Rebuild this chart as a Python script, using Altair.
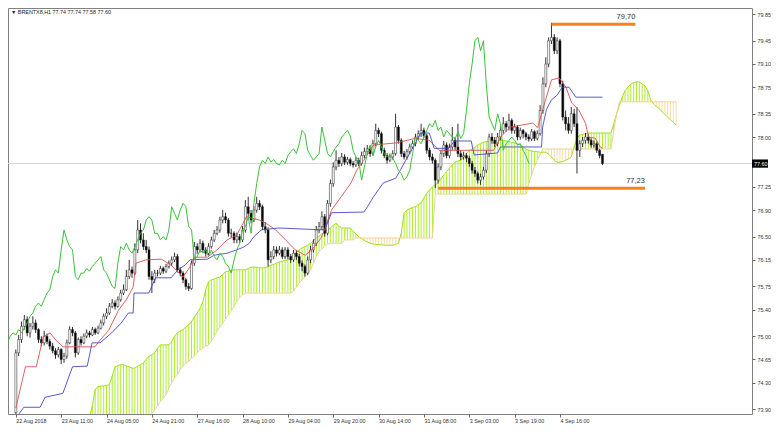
import altair as alt
import pandas as pd

# ---------------- data ----------------
opens = [
    73.85, 74.75, 74.95, 75.15, 75.25, 75.05, 75.15, 75.20, 75.10, 74.95,
    74.90, 75.00, 74.92, 74.85, 74.78, 74.72, 74.80, 74.65, 74.70, 74.90,
    75.10, 75.05, 74.75, 74.95, 74.90, 75.00, 75.05, 75.02, 75.10, 75.05,
    75.12, 75.20, 75.30, 75.35, 75.45, 75.50, 75.45, 75.55, 75.65, 75.70,
    75.90, 76.00, 75.95, 76.30, 76.60, 76.45, 76.35, 76.30, 75.90, 75.85,
    75.95, 75.95, 76.02, 75.98, 76.05, 76.10, 76.15, 76.20, 76.00, 75.95,
    75.85, 75.75, 75.72, 76.10, 76.35, 76.30, 76.40, 76.30, 76.25, 76.35,
    76.45, 76.55, 76.60, 76.75, 76.80, 76.75, 76.55, 76.55, 76.45, 76.50,
    76.45, 76.60, 76.95, 76.85, 76.75, 76.90, 77.00, 76.95, 76.65, 76.60,
    76.15, 76.20, 76.30, 76.25, 76.30, 76.20, 76.30, 76.20, 76.15, 76.25,
    76.20, 76.10, 76.05, 75.95, 76.15, 76.30, 76.40, 76.60, 76.65, 76.80,
    76.55, 77.00, 77.30, 77.55, 77.65, 77.60, 77.70, 77.62, 77.66, 77.60,
    77.58, 77.65, 77.60, 77.72, 77.78, 77.82, 77.75, 77.90, 78.10, 78.05,
    77.80, 77.72, 77.65, 77.70, 77.75, 78.15, 77.95, 77.75, 77.70, 77.78,
    77.85, 77.90, 78.00, 78.05, 78.10, 78.02, 77.80, 77.70, 77.65, 77.35,
    77.55, 77.75, 77.88, 77.72, 77.85, 77.95, 77.85, 77.75, 77.70, 77.72,
    77.68, 77.60, 77.50, 77.45, 77.35, 77.40, 77.50, 77.75, 78.00, 77.95,
    77.90, 78.00, 78.10, 78.20, 78.15, 78.25, 78.10, 78.15, 78.00, 78.10,
    78.05, 78.00, 77.97, 78.08, 77.98, 78.05, 78.40, 78.80, 79.10, 79.45,
    79.50, 79.30, 79.45, 78.80, 78.30, 78.20, 78.10, 78.35, 78.20, 77.80,
    77.90, 77.95, 78.00, 77.95, 77.88, 77.90, 77.80, 77.74,
]
highs = [
    74.80, 75.02, 75.22, 75.32, 75.30, 75.20, 75.30, 75.25, 75.12, 75.00,
    75.08, 75.04, 74.96, 74.90, 74.82, 74.84, 74.82, 74.75, 74.95, 75.15,
    75.14, 75.08, 74.98, 75.00, 75.04, 75.10, 75.08, 75.14, 75.13, 75.16,
    75.25, 75.34, 75.42, 75.50, 75.56, 75.54, 75.60, 75.70, 75.78, 76.00,
    76.15, 76.05, 76.40, 76.75, 76.70, 76.55, 76.45, 76.35, 75.98, 76.00,
    76.00, 76.06, 76.05, 76.09, 76.14, 76.20, 76.26, 76.24, 76.04, 75.98,
    75.88, 75.80, 76.14, 76.42, 76.40, 76.46, 76.44, 76.34, 76.40, 76.50,
    76.60, 76.66, 76.80, 76.90, 76.86, 76.78, 76.62, 76.58, 76.56, 76.54,
    76.66, 77.05, 77.10, 76.90, 76.96, 77.10, 77.05, 76.98, 76.72, 76.64,
    76.28, 76.36, 76.35, 76.36, 76.34, 76.34, 76.34, 76.24, 76.30, 76.30,
    76.24, 76.14, 76.08, 76.20, 76.36, 76.46, 76.66, 76.72, 76.88, 76.84,
    77.05, 77.36, 77.62, 77.80, 77.70, 77.76, 77.74, 77.70, 77.69, 77.64,
    77.70, 77.69, 77.78, 77.84, 77.88, 77.86, 77.96, 78.20, 78.14, 78.08,
    77.84, 77.76, 77.75, 77.80, 78.35, 78.18, 77.98, 77.79, 77.82, 77.90,
    77.95, 78.05, 78.10, 78.20, 78.14, 78.05, 77.84, 77.75, 77.68, 77.60,
    77.80, 77.94, 77.92, 77.90, 78.15, 78.00, 78.20, 77.80, 77.78, 77.76,
    77.72, 77.64, 77.55, 77.48, 77.45, 77.55, 77.80, 78.05, 78.06, 78.00,
    78.06, 78.16, 78.30, 78.24, 78.35, 78.28, 78.20, 78.18, 78.14, 78.12,
    78.08, 78.04, 78.12, 78.10, 78.10, 78.48, 78.90, 79.20, 79.50, 79.72,
    79.55, 79.50, 79.48, 78.85, 78.40, 78.30, 78.45, 78.42, 78.45, 77.95,
    78.00, 78.06, 78.04, 77.98, 77.95, 77.93, 77.82, 77.74,
]
lows = [
    73.80, 74.70, 74.90, 75.10, 75.00, 74.98, 75.10, 75.05, 74.90, 74.85,
    74.86, 74.88, 74.80, 74.74, 74.66, 74.68, 74.58, 74.60, 74.66, 74.88,
    75.00, 74.68, 74.72, 74.86, 74.88, 74.97, 74.98, 75.00, 75.02, 75.03,
    75.10, 75.16, 75.26, 75.32, 75.42, 75.40, 75.43, 75.52, 75.62, 75.68,
    75.86, 75.88, 75.92, 76.25, 76.40, 76.30, 76.25, 75.85, 75.65, 75.80,
    75.90, 75.92, 75.94, 75.95, 76.02, 76.06, 76.12, 75.96, 75.90, 75.80,
    75.70, 75.68, 75.70, 76.06, 76.24, 76.26, 76.26, 76.20, 76.22, 76.32,
    76.42, 76.52, 76.56, 76.70, 76.70, 76.50, 76.48, 76.40, 76.40, 76.40,
    76.42, 76.56, 76.80, 76.70, 76.72, 76.86, 76.90, 76.60, 76.55, 76.05,
    76.10, 76.16, 76.20, 76.22, 76.16, 76.16, 76.16, 76.10, 76.12, 76.15,
    76.05, 75.98, 75.90, 75.92, 76.10, 76.26, 76.36, 76.55, 76.60, 76.50,
    76.52, 76.95, 77.25, 77.50, 77.55, 77.56, 77.58, 77.58, 77.56, 77.54,
    77.55, 77.56, 77.57, 77.68, 77.74, 77.70, 77.72, 77.86, 78.00, 77.75,
    77.68, 77.60, 77.62, 77.66, 77.72, 77.90, 77.70, 77.66, 77.66, 77.74,
    77.82, 77.86, 77.96, 78.00, 77.98, 77.75, 77.65, 77.60, 77.23, 77.30,
    77.50, 77.70, 77.68, 77.68, 77.80, 77.80, 77.70, 77.65, 77.66, 77.62,
    77.55, 77.45, 77.40, 77.30, 77.28, 77.36, 77.46, 77.70, 77.90, 77.85,
    77.86, 77.95, 78.05, 78.08, 78.10, 78.05, 78.05, 77.95, 77.96, 77.98,
    77.95, 77.93, 77.94, 77.94, 77.95, 78.02, 78.35, 78.75, 79.05, 79.40,
    79.25, 79.25, 78.75, 78.25, 78.10, 78.05, 78.05, 78.15, 77.45, 77.70,
    77.85, 77.90, 77.90, 77.84, 77.84, 77.76, 77.68, 77.58,
]
closes = [
    74.75, 74.95, 75.15, 75.25, 75.05, 75.15, 75.20, 75.10, 74.95, 74.90,
    75.00, 74.92, 74.85, 74.78, 74.72, 74.80, 74.65, 74.70, 74.90, 75.10,
    75.05, 74.75, 74.95, 74.90, 75.00, 75.05, 75.02, 75.10, 75.05, 75.12,
    75.20, 75.30, 75.35, 75.45, 75.50, 75.45, 75.55, 75.65, 75.70, 75.90,
    76.00, 75.95, 76.30, 76.60, 76.45, 76.35, 76.30, 75.90, 75.85, 75.95,
    75.95, 76.02, 75.98, 76.05, 76.10, 76.15, 76.20, 76.00, 75.95, 75.85,
    75.75, 75.72, 76.10, 76.35, 76.30, 76.40, 76.30, 76.25, 76.35, 76.45,
    76.55, 76.60, 76.75, 76.80, 76.75, 76.55, 76.55, 76.45, 76.50, 76.45,
    76.60, 76.95, 76.85, 76.75, 76.90, 77.00, 76.95, 76.65, 76.60, 76.15,
    76.20, 76.30, 76.25, 76.30, 76.20, 76.30, 76.20, 76.15, 76.25, 76.20,
    76.10, 76.05, 75.95, 76.15, 76.30, 76.40, 76.60, 76.65, 76.80, 76.55,
    77.00, 77.30, 77.55, 77.65, 77.60, 77.70, 77.62, 77.66, 77.60, 77.58,
    77.65, 77.60, 77.72, 77.78, 77.82, 77.75, 77.90, 78.10, 78.05, 77.80,
    77.72, 77.65, 77.70, 77.75, 78.15, 77.95, 77.75, 77.70, 77.78, 77.85,
    77.90, 78.00, 78.05, 78.10, 78.02, 77.80, 77.70, 77.65, 77.35, 77.55,
    77.75, 77.88, 77.72, 77.85, 77.95, 77.85, 77.75, 77.70, 77.72, 77.68,
    77.60, 77.50, 77.45, 77.35, 77.40, 77.50, 77.75, 78.00, 77.95, 77.90,
    78.00, 78.10, 78.20, 78.15, 78.25, 78.10, 78.15, 78.00, 78.10, 78.05,
    78.00, 77.97, 78.08, 77.98, 78.05, 78.40, 78.80, 79.10, 79.45, 79.50,
    79.30, 79.45, 78.80, 78.30, 78.20, 78.10, 78.35, 78.20, 77.80, 77.90,
    77.95, 78.00, 77.95, 77.88, 77.90, 77.80, 77.72, 77.60,
]

# Tenkan-sen (red) and Kijun-sen (blue), read at their turning points
tenkan_bar = [0, 3.4, 7.2, 9.7, 12.1, 14.1, 16.6, 27.9, 29.7, 32.8, 36.2, 39, 41.4, 42.4,
              45.9, 51.4, 54.8, 59, 61.4, 63.1, 67.6, 71, 74.5, 77.9, 81.4, 85.9, 88.3,
              91.7, 95.2, 98.6, 102.1, 104.5, 107.9, 111.4, 114.8, 118.3, 120.3, 122.8,
              126.2, 134.1, 141, 145.9, 149.3, 161.7, 168.6, 171, 174.5, 182.4, 184.1,
              185.9, 189, 191.7, 194.1, 196.2, 198.6, 201, 202.1, 204.5, 206.2, 207]
tenkan_val = [73.92, 74.54, 74.54, 74.99, 75.05, 74.94, 74.84, 74.84, 74.94, 75.09, 75.39,
              75.55, 75.74, 76.10, 76.15, 76.16, 76.07, 75.89, 76.04, 76.19, 76.19, 76.30,
              76.45, 76.52, 76.80, 76.75, 76.70, 76.60, 76.45, 76.30, 76.22, 76.30, 76.49,
              76.90, 77.10, 77.31, 77.50, 77.65, 77.88, 77.91, 77.98, 77.95, 77.80, 77.80,
              77.80, 78.00, 78.15, 78.21, 78.14, 78.41, 78.86, 78.89, 78.75, 78.51, 78.41,
              78.21, 78.00, 77.98, 77.85, 77.83]
kijun_bar = [0.3, 2.8, 8.6, 10.3, 16.6, 20, 25.2, 26.9, 29.7, 33.8, 37.2, 39.7, 41.4, 41.7,
             46.9, 49.3, 54.8, 57.2, 59.7, 61.4, 67.6, 70, 74.5, 77.9, 80.3, 82.4, 83.8,
             86.6, 92.8, 109, 111.4, 122.8, 124.1, 126.2, 129.7, 134.1, 137.6, 141, 142.8,
             145.9, 147.6, 152.8, 154.8, 160.7, 161.7, 170, 171, 185.5, 185.9, 187.2, 189,
             191, 192.8, 195.2, 197.6, 207]
kijun_val = [73.78, 73.93, 73.93, 74.08, 74.14, 74.54, 74.55, 74.90, 74.90, 75.05, 75.20,
             75.35, 75.35, 75.65, 75.65, 75.88, 75.88, 76.00, 76.07, 76.15, 76.16, 76.22,
             76.25, 76.30, 76.34, 76.40, 76.49, 76.60, 76.63, 76.60, 76.86, 76.87, 76.95,
             77.10, 77.31, 77.38, 77.65, 77.91, 78.06, 78.06, 77.83, 77.83, 77.94, 77.94,
             77.73, 77.76, 77.85, 77.85, 78.15, 78.41, 78.56, 78.63, 78.75, 78.75, 78.60,
             78.60]

# Senkou span A / B, one value per bar from bar 25 to bar 233
CLOUD_START = 25
span_a = [
    73.78, 73.78, 73.95, 74.20, 74.24, 74.25, 74.25, 74.26, 74.27, 74.40,
    74.54, 74.56, 74.57, 74.57, 74.55, 74.54, 74.52, 74.52, 74.55, 74.57,
    74.60, 74.65, 74.70, 74.72, 74.75, 74.82, 74.87, 74.87, 74.87, 74.87,
    74.92, 75.00, 75.05, 75.08, 75.10, 75.14, 75.17, 75.22, 75.29, 75.35,
    75.42, 75.52, 75.70, 75.82, 75.85, 75.86, 75.88, 75.89, 75.93, 75.97,
    75.98, 75.99, 76.00, 76.00, 76.00, 76.00, 76.00, 76.02, 76.04, 76.04,
    76.04, 76.03, 76.03, 76.03, 76.05, 76.07, 76.08, 76.10, 76.12, 76.13,
    76.14, 76.15, 76.18, 76.22, 76.26, 76.30, 76.33, 76.35, 76.37, 76.40,
    76.44, 76.48, 76.51, 76.54, 76.57, 76.60, 76.63, 76.67, 76.70, 76.66,
    76.63, 76.63, 76.63, 76.63, 76.58, 76.54, 76.50, 76.47, 76.44, 76.42,
    76.40, 76.39, 76.38, 76.38, 76.38, 76.37, 76.37, 76.37, 76.37, 76.38,
    76.40, 76.55, 76.85, 76.90, 76.92, 76.94, 76.95, 76.98, 77.01, 77.08,
    77.16, 77.20, 77.25, 77.28, 77.31, 77.37, 77.43, 77.48, 77.53, 77.58,
    77.62, 77.64, 77.65, 77.70, 77.75, 77.79, 77.82, 77.85, 77.88, 77.90,
    77.92, 77.93, 77.94, 77.95, 77.95, 77.95, 77.95, 77.95, 77.94, 77.93,
    77.92, 77.91, 77.90, 77.88, 77.85, 77.82, 77.80, 77.79, 77.78, 77.78,
    77.77, 77.77, 77.77, 77.74, 77.70, 77.65, 77.62, 77.62, 77.63, 77.65,
    77.67, 77.70, 77.85, 77.98, 78.03, 78.04, 78.05, 78.06, 78.06, 78.06,
    78.06, 78.06, 78.06, 78.06, 78.06, 78.06, 78.20, 78.35, 78.48, 78.60,
    78.70, 78.75, 78.80, 78.82, 78.83, 78.83, 78.80, 78.77, 78.70, 78.56,
    78.50, 78.46, 78.43, 78.38, 78.34, 78.30, 78.26, 78.22, 78.18,
]
span_b = (
    [73.78] * 23
    + [73.84, 73.89, 73.95, 74.02, 74.06, 74.12, 74.22,
       74.30, 74.37, 74.42, 74.50, 74.55, 74.59, 74.62, 74.66, 74.70, 74.75,
       74.79, 74.82, 74.85, 74.87, 74.93, 75.00, 75.07, 75.14, 75.20, 75.26,
       75.32, 75.38, 75.45, 75.53, 75.58, 75.62]
    + [75.65] * 17
    + [75.68, 75.74, 75.80, 75.85, 75.89, 75.95, 76.00,
       76.10, 76.20, 76.28, 76.32, 76.36, 76.39]
    + [76.40] * 5
    + [76.45] * 4
    + [76.48] * 28
    + [77.14] * 33
    + [77.30, 77.43, 77.55, 77.65, 77.73]
    + [77.82] * 25
    + [78.10, 78.35]
    + [78.53] * 21
)

x_tick_bars = [0, 16, 32, 48, 64, 80, 96, 112, 128, 144, 160, 176, 192]
x_tick_labels = ["22 Aug 2018", "23 Aug 11:00", "24 Aug 05:00", "24 Aug 21:00",
                 "27 Aug 16:00", "28 Aug 10:00", "29 Aug 04:00", "29 Aug 20:00",
                 "30 Aug 14:00", "31 Aug 08:00", "3 Sep 03:00", "3 Sep 19:00",
                 "4 Sep 16:00"]
y_ticks = [79.85, 79.45, 79.10, 78.75, 78.35, 78.00, 77.25, 76.90, 76.50, 76.15,
           75.75, 75.40, 75.00, 74.65, 74.30, 73.90]

level_values = [79.70, 77.23]
level_start = [189, 149]
level_end = [218.6, 222]
level_labels = ["79,70", "77,23"]

last_price = 77.60
title_text = "\u25bc BRENTX8,H1  77.74 77.74 77.58 77.60"
CHIKOU_SHIFT = 26

# ---------------- chart ----------------
W, H = 744, 406
FONT = "Liberation Sans"
FS = 5.4
GREEN_HATCH = "#adef2c"
TAN_HATCH = "#f7dcae"

xscale = alt.Scale(domain=[-1, 258], nice=False, zero=False)
yscale = alt.Scale(domain=[79.943 - H / 66.4, 79.943], nice=False, zero=False)

label_arr = "[" + ",".join("'%s'" % s for s in x_tick_labels) + "]"
x_axis = alt.Axis(values=x_tick_bars, labelExpr=label_arr + "[round(datum.value/16)]",
                  title=None, grid=False, domain=False, tickSize=3, tickColor="#666666",
                  labelAlign="left", labelPadding=1, labelFontSize=FS, labelFont=FONT,
                  labelColor="#333333", labelOverlap=False, labelFlush=False, labelBound=False)
y_axis = alt.Axis(orient="right", values=y_ticks, format=".2f", title=None, grid=False,
                  domain=False, tickSize=3, tickColor="#666666", labelPadding=2,
                  labelFontSize=FS, labelFont=FONT, labelColor="#333333",
                  labelOverlap=False, labelFlush=False, labelBound=False)


def X(f):
    return alt.X(f, type="quantitative", scale=xscale, axis=x_axis)


def Y(f):
    return alt.Y(f, type="quantitative", scale=yscale, axis=y_axis)


candles = pd.DataFrame({"bar": list(range(len(closes))), "open": opens, "high": highs,
                        "low": lows, "close": closes})
cloud = pd.DataFrame({"bar": list(range(CLOUD_START, CLOUD_START + len(span_a))),
                      "a": span_a, "b": span_b})
tenkan = pd.DataFrame({"bar": tenkan_bar, "v": tenkan_val})
kijun = pd.DataFrame({"bar": kijun_bar, "v": kijun_val})
levels = pd.DataFrame({"v": level_values, "s": level_start, "e": level_end, "t": level_labels})
lastdf = pd.DataFrame({"p": [last_price], "lo": [last_price - 0.062], "hi": [last_price + 0.062],
                       "t": ["%.2f" % last_price]})
titledf = pd.DataFrame({"t": [title_text]})

price_line = alt.Chart(lastdf).mark_rule(color="#d4d4d4", strokeWidth=1, clip=True).encode(y=Y("p"))

hatch = alt.Chart(cloud).mark_rule(strokeWidth=1, clip=True).encode(
    x=X("bar"), y=Y("a"), y2="b",
    color=alt.condition("datum.a >= datum.b", alt.value(GREEN_HATCH), alt.value(TAN_HATCH)))
line_a = alt.Chart(cloud).mark_line(color="#9fe01e", strokeWidth=1, clip=True).encode(x=X("bar"), y=Y("a"))
line_b = alt.Chart(cloud).mark_line(color="#f2cf98", strokeWidth=1, clip=True).encode(x=X("bar"), y=Y("b"))

wick = alt.Chart(candles).mark_rule(color="#1a1a1a", strokeWidth=0.9, clip=True).encode(
    x=X("bar"), y=Y("low"), y2="high")
body = alt.Chart(candles).mark_bar(size=2, stroke="#222222", strokeWidth=0.5, clip=True).encode(
    x=X("bar"), y=Y("open"), y2="close",
    fill=alt.condition("datum.close >= datum.open", alt.value("#ffffff"), alt.value("#000000")))

tenkan_l = alt.Chart(tenkan).mark_line(color="#dd5050", strokeWidth=0.9, clip=True).encode(x=X("bar"), y=Y("v"))
kijun_l = alt.Chart(kijun).mark_line(color="#4848c8", strokeWidth=0.9, clip=True).encode(x=X("bar"), y=Y("v"))
chikou_l = alt.Chart(candles).transform_calculate(cb="datum.bar - %d" % CHIKOU_SHIFT).mark_line(
    color="#3ac23a", strokeWidth=1, clip=True).encode(x=X("cb"), y=Y("close"))

lvl = alt.Chart(levels).mark_rule(color="#f7801f", strokeWidth=3).encode(x=X("s"), x2="e", y=Y("v"))
lvl_txt = alt.Chart(levels).mark_text(align="right", baseline="bottom", dy=-3, fontSize=7.5,
                                      font=FONT, color="#333333").encode(x=X("e"), y=Y("v"), text="t:N")

pbox = alt.Chart(lastdf).mark_rect(color="#000000").encode(
    x=alt.value(W), x2=alt.value(W + 16), y=Y("lo"), y2="hi")
ptxt = alt.Chart(lastdf).mark_text(align="left", baseline="middle", color="#ffffff", fontSize=FS,
                                   font=FONT).encode(x=alt.value(W + 2), y=Y("p"), text="t:N")
ttl = alt.Chart(titledf).mark_text(align="left", baseline="top", fontSize=FS, font=FONT,
                                   color="#222222").encode(x=alt.value(3), y=alt.value(2), text="t:N")

chart = alt.layer(price_line, hatch, line_a, line_b, wick, body, tenkan_l, kijun_l, chikou_l,
                  lvl, lvl_txt, pbox, ptxt, ttl).properties(
    width=W, height=H, padding=0, background="#ffffff"
).configure_view(stroke="#808080", strokeWidth=1)

chart.save("out.html", embed_options={"renderer": "svg", "actions": False})
